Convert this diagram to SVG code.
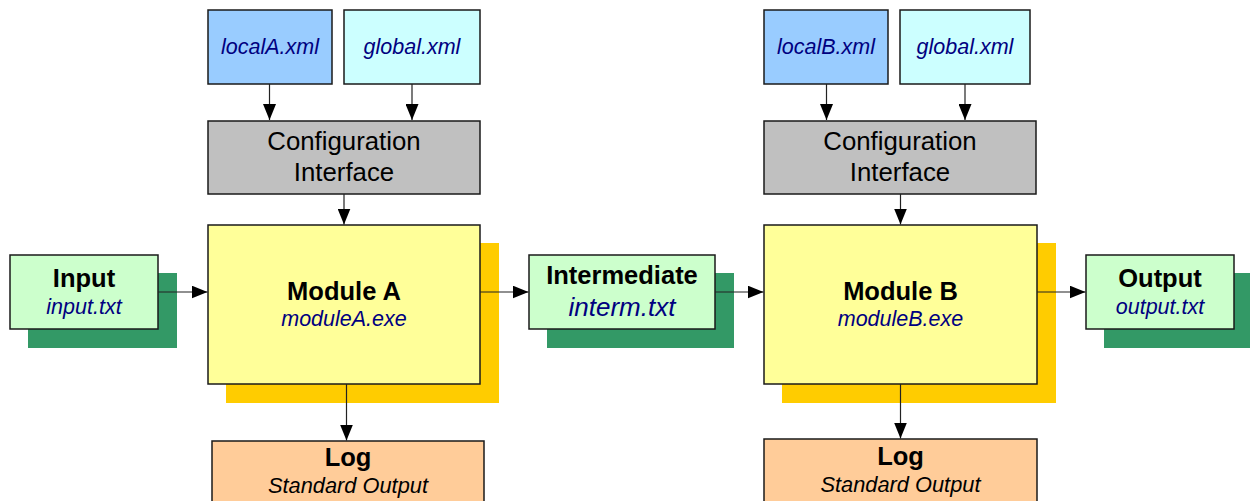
<svg xmlns="http://www.w3.org/2000/svg" width="1250" height="501" viewBox="0 0 1250 501">
<defs>
<marker id="arr" markerWidth="16" markerHeight="13" refX="16" refY="6.5" orient="auto" markerUnits="userSpaceOnUse">
<path d="M0,0 L16,6.5 L0,13 Z" fill="#000"/>
</marker>
</defs>
<style>
.box{stroke:#1a1a1a;stroke-width:1.5}
.loc{fill:#99CCFF}
.glo{fill:#CCFFFF}
.cfg{fill:#C0C0C0}
.mod{fill:#FFFF99}
.modsh{fill:#FFCC00}
.file{fill:#CCFFCC}
.filesh{fill:#339966}
.log{fill:#FFCC99}
text{font-family:"Liberation Sans",Arial,sans-serif;text-anchor:middle}
.t{font-weight:bold;font-size:25.5px;fill:#000}
.s{font-style:italic;font-size:21.5px;fill:#000080}
.c{font-size:25.8px;fill:#000}
.so{font-style:italic;font-size:21.8px;fill:#000}
.con{stroke:#222;stroke-width:1.2;fill:none;marker-end:url(#arr)}
</style>
<rect width="1250" height="501" fill="#fff"/>

<g id="localA"><rect class="box loc" x="208" y="10" width="124" height="74"/><text class="s" x="270" y="54">localA.xml</text></g>
<g id="globalA"><rect class="box glo" x="344" y="10" width="136" height="74"/><text class="s" x="412" y="54">global.xml</text></g>
<g id="configA"><rect class="box cfg" x="208" y="121" width="272" height="73"/><text class="c" x="344" y="150">Configuration</text><text class="c" x="344" y="181">Interface</text></g>
<g id="moduleA"><rect class="modsh" x="226" y="243" width="273" height="160"/><rect class="box mod" x="208" y="225" width="272" height="159"/><text class="t" x="344" y="299.5">Module A</text><text class="s" x="344" y="325.5">moduleA.exe</text></g>
<g id="logA"><rect class="box log" x="212" y="441" width="272" height="70"/><text class="t" x="348" y="466">Log</text><text class="so" x="348" y="493">Standard Output</text></g>
<g id="input"><rect class="filesh" x="28" y="273" width="149" height="75"/><rect class="box file" x="10" y="255" width="148" height="74"/><text class="t" x="84" y="286.5">Input</text><text class="s" x="84" y="314">input.txt</text></g>
<g id="intermediate"><rect class="filesh" x="547" y="273" width="187" height="75"/><rect class="box file" x="529" y="255" width="186" height="74"/><text class="t" x="622" y="283.5">Intermediate</text><text class="s" x="622" y="316" style="font-size:26px">interm.txt</text></g>

<g id="localB"><rect class="box loc" x="764" y="10" width="124" height="74"/><text class="s" x="826" y="54">localB.xml</text></g>
<g id="globalB"><rect class="box glo" x="900" y="10" width="130" height="74"/><text class="s" x="965" y="54">global.xml</text></g>
<g id="configB"><rect class="box cfg" x="764" y="121" width="272" height="73"/><text class="c" x="900" y="150">Configuration</text><text class="c" x="900" y="181">Interface</text></g>
<g id="moduleB"><rect class="modsh" x="782" y="243" width="274" height="160"/><rect class="box mod" x="764" y="225" width="273" height="159"/><text class="t" x="900.5" y="299.5">Module B</text><text class="s" x="900.5" y="326">moduleB.exe</text></g>
<g id="logB"><rect class="box log" x="764" y="439" width="273" height="70"/><text class="t" x="900.5" y="465">Log</text><text class="so" x="900.5" y="492">Standard Output</text></g>
<g id="output"><rect class="filesh" x="1104" y="273" width="150" height="75"/><rect class="box file" x="1086" y="255" width="148" height="74"/><text class="t" x="1160" y="286.5">Output</text><text class="s" x="1160" y="314">output.txt</text></g>

<g id="connectors">
<line class="con" x1="269.5" y1="84" x2="269.5" y2="120"/>
<line class="con" x1="412" y1="84" x2="412" y2="120"/>
<line class="con" x1="344" y1="194" x2="344" y2="224.5"/>
<line class="con" x1="158" y1="292" x2="207.5" y2="292"/>
<line class="con" x1="480" y1="292" x2="528.5" y2="292"/>
<line class="con" x1="715" y1="292" x2="763.5" y2="292"/>
<line class="con" x1="1037" y1="292" x2="1085.5" y2="292"/>
<line class="con" x1="346.5" y1="384" x2="346.5" y2="440.5"/>
<line class="con" x1="826.5" y1="84" x2="826.5" y2="120"/>
<line class="con" x1="965" y1="84" x2="965" y2="120"/>
<line class="con" x1="900.5" y1="194" x2="900.5" y2="224.5"/>
<line class="con" x1="900.5" y1="384" x2="900.5" y2="438.5"/>
</g>
</svg>
